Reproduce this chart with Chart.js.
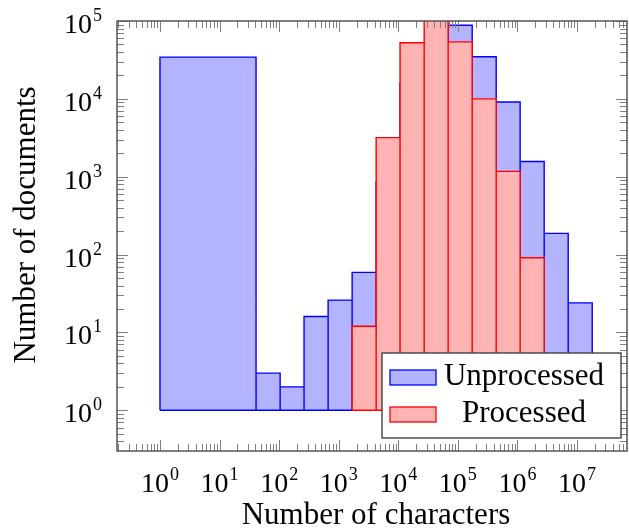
<!DOCTYPE html>
<html>
<head>
<meta charset="utf-8">
<script src="https://cdn.jsdelivr.net/npm/chart.js@4.4.1/dist/chart.umd.min.js"></script>
<style>
  html, body { margin: 0; padding: 0; background: #fff; }
  #wrap { width: 629px; height: 529px; }
</style>
</head>
<body>
<div id="wrap"><canvas id="hist-chart" width="629" height="529"></canvas></div>
<script>
// histogram bin edges (number of characters)
const binEdges = [1, 41, 104, 262, 664, 1680, 4250, 10700, 27200, 68700, 174000, 440000, 1110000, 2810000, 7110000, 18000000]
// documents per bin
const unprocessed = [34400, 3, 2, 16, 26, 59, 850, 15800, 45000, 88000, 34700, 9100, 1570, 187, 24]
const processed = [null, null, null, null, null, 12, 3180, 52600, 120000, 54000, 10000, 1170, 91, null, null]
const xTickExps = [0, 1, 2, 3, 4, 5, 6, 7]
const yTickExps = [0, 1, 2, 3, 4, 5]
const seriesNames = ['Unprocessed', 'Processed']

const X_MIN = 0.19, X_MAX = 69000000
const Y_MIN = 0.316, Y_MAX = 100000
const BAR_BASE = 1

const SERIF = "'Liberation Serif', 'DejaVu Serif', serif"
const BLUE = '#0000ff', BLUE_FILL = 'rgb(179,179,255)'
const RED = '#ff0000', RED_FILL = 'rgb(255,179,179)'

// outline of a run of histogram bars, walked as one closed shape
function barOutline(edges, counts) {
  const pts = []
  let first = null
  counts.forEach((c, i) => {
    if (c == null) return
    if (first === null) first = i
    pts.push({ x: edges[i], y: BAR_BASE }, { x: edges[i], y: c },
             { x: edges[i + 1], y: c }, { x: edges[i + 1], y: BAR_BASE })
  })
  pts.push({ x: edges[first], y: BAR_BASE })
  return pts
}

function decadeTicks(min, max) {
  const out = []
  for (let n = Math.floor(Math.log10(min)); n <= Math.ceil(Math.log10(max)); n++) {
    for (let k = 1; k <= 9; k++) {
      const v = k * Math.pow(10, n)
      if (v >= min && v <= max) out.push({ v, major: k === 1 })
    }
  }
  return out
}

function powerLabel(ctx, exp, x, y, align) {
  ctx.font = '28px ' + SERIF
  const wBase = ctx.measureText('10').width
  ctx.font = '18px ' + SERIF
  const wSup = ctx.measureText(String(exp)).width
  const total = wBase + 1 + wSup
  const start = align === 'center' ? x - total / 2 : x - total
  ctx.textAlign = 'left'
  ctx.textBaseline = 'alphabetic'
  ctx.font = '28px ' + SERIF
  ctx.fillText('10', start, y)
  ctx.font = '18px ' + SERIF
  ctx.fillText(String(exp), start + wBase + 1, y - 12)
}

const axisFrame = {
  id: 'axisFrame',
  afterDatasetsDraw(chart) {
    const { ctx, chartArea: a, scales } = chart
    const xs = scales.x, ys = scales.y
    ctx.save()

    // inward ticks on all four sides
    ctx.strokeStyle = '#808080'
    ctx.lineWidth = 1
    ctx.beginPath()
    decadeTicks(X_MIN, X_MAX).forEach(t => {
      const px = Math.round(xs.getPixelForValue(t.v)) + 0.5
      const len = t.major ? 11 : 7
      ctx.moveTo(px, a.bottom); ctx.lineTo(px, a.bottom - len)
      ctx.moveTo(px, a.top); ctx.lineTo(px, a.top + len)
    })
    decadeTicks(Y_MIN, Y_MAX).forEach(t => {
      const py = Math.round(ys.getPixelForValue(t.v)) + 0.5
      const len = t.major ? 11 : 7
      ctx.moveTo(a.left, py); ctx.lineTo(a.left + len, py)
      ctx.moveTo(a.right, py); ctx.lineTo(a.right - len, py)
    })
    ctx.stroke()

    ctx.strokeStyle = '#555'
    ctx.lineWidth = 1.5
    ctx.strokeRect(a.left, a.top, a.right - a.left, a.bottom - a.top)

    // tick labels
    ctx.fillStyle = '#000'
    xTickExps.forEach(n => powerLabel(ctx, n, xs.getPixelForValue(Math.pow(10, n)), a.bottom + 41, 'center'))
    yTickExps.forEach(n => powerLabel(ctx, n, a.left - 15, ys.getPixelForValue(Math.pow(10, n)) + 12, 'right'))

    // axis titles
    ctx.font = '31px ' + SERIF
    ctx.textAlign = 'center'
    ctx.textBaseline = 'alphabetic'
    ctx.fillText('Number of characters', 376, 524)
    ctx.save()
    ctx.translate(35, 225)
    ctx.rotate(-Math.PI / 2)
    ctx.fillText('Number of documents', 0, 0)
    ctx.restore()

    // legend box, lower right inside the axes
    const lx0 = a.right - 245, lx1 = a.right - 6
    const ly0 = a.bottom - 98, ly1 = a.bottom - 13
    ctx.fillStyle = '#fff'
    ctx.fillRect(lx0, ly0, lx1 - lx0, ly1 - ly0)
    ctx.strokeStyle = '#333'
    ctx.lineWidth = 1.3
    ctx.strokeRect(lx0, ly0, lx1 - lx0, ly1 - ly0)
    const swatches = [[BLUE_FILL, BLUE], [RED_FILL, RED]]
    seriesNames.forEach((name, i) => {
      const sy = ly0 + 17 + i * 37
      ctx.fillStyle = swatches[i][0]
      ctx.fillRect(lx0 + 8, sy, 46, 15)
      ctx.strokeStyle = swatches[i][1]
      ctx.lineWidth = 1.3
      ctx.strokeRect(lx0 + 8, sy, 46, 15)
      ctx.fillStyle = '#000'
      ctx.font = '31px ' + SERIF
      ctx.textAlign = 'center'
      ctx.fillText(name, lx0 + 142, sy + 15)
    })
    ctx.restore()
  }
}

const ctxHist = document.getElementById('hist-chart').getContext('2d')
new Chart(ctxHist, {
  type: 'scatter',
  data: {
    datasets: [
      {
        label: seriesNames[1],
        data: barOutline(binEdges, processed),
        showLine: true,
        fill: 'shape',
        borderColor: RED,
        backgroundColor: RED_FILL,
        borderWidth: 1.4,
        borderJoinStyle: 'miter',
        pointRadius: 0,
        tension: 0,
        order: 0
      },
      {
        label: seriesNames[0],
        data: barOutline(binEdges, unprocessed),
        showLine: true,
        fill: 'shape',
        borderColor: BLUE,
        backgroundColor: BLUE_FILL,
        borderWidth: 1.4,
        borderJoinStyle: 'miter',
        pointRadius: 0,
        tension: 0,
        order: 1
      }
    ]
  },
  options: {
    responsive: false,
    animation: false,
    events: [],
    layout: { padding: { left: 117, right: 2, top: 21, bottom: 78 } },
    plugins: { legend: { display: false }, tooltip: { enabled: false } },
    scales: {
      x: { type: 'logarithmic', display: false, min: X_MIN, max: X_MAX },
      y: { type: 'logarithmic', display: false, min: Y_MIN, max: Y_MAX }
    }
  },
  plugins: [axisFrame]
})
</script>
</body>
</html>
